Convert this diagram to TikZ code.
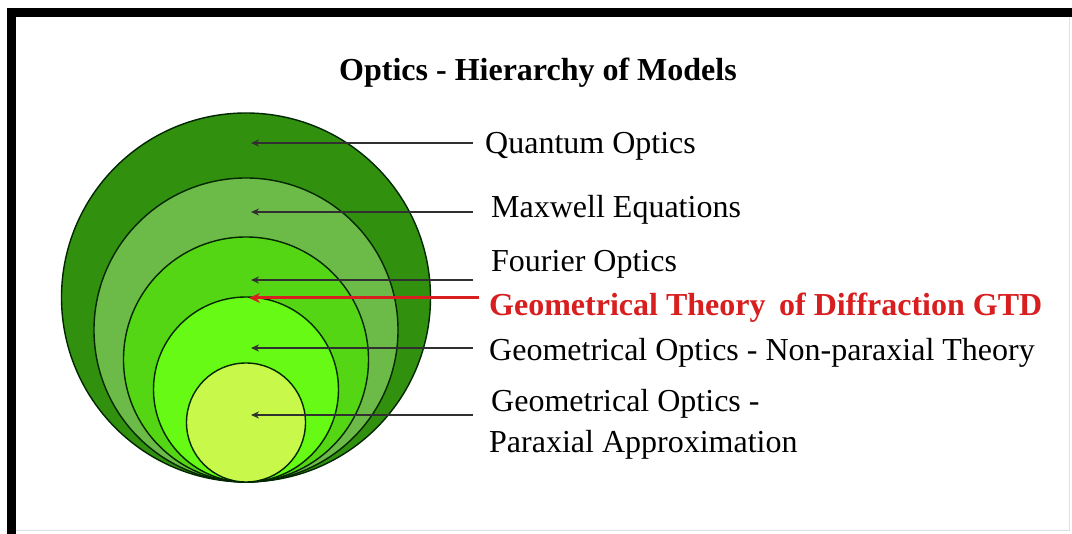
\documentclass[tikz,border=0pt]{standalone}
\usepackage{fontspec}
\setmainfont{Liberation Serif}
\usetikzlibrary{arrows.meta}
\definecolor{cQuantum}{HTML}{32900F}
\definecolor{cMaxwell}{HTML}{6CBA48}
\definecolor{cFourier}{HTML}{54D615}
\definecolor{cGOnp}{HTML}{66FA14}
\definecolor{cParax}{HTML}{C8F84A}
\definecolor{gtdred}{HTML}{D81E1E}
\definecolor{leadgray}{HTML}{303030}
\tikzset{
  x=1pt, y=-1pt,
  ring/.style={draw=black!85!green, line width=1.4pt},
  lbl/.style={anchor=base west, inner sep=0pt, font=\fontsize{32}{38}\selectfont},
  redlbl/.style={lbl, font=\fontsize{32}{38}\selectfont\bfseries, text=gtdred},
  leader/.style={draw=leadgray, line width=1.6pt, -{Stealth[length=8pt,width=7pt]}},
  redleader/.style={draw=gtdred, line width=3pt, -{Stealth[length=11pt,width=10pt]}},
}
\begin{document}
\begin{tikzpicture}
\useasboundingbox (0,0) rectangle (1072,534);
\fill[white] (0,0) rectangle (1072,534);
% frame
\fill[black] (7,8) rectangle (1072,17);
\fill[black] (7,8) rectangle (16,534);
\draw[black!12, line width=1pt] (1069,17) -- (1069,531) -- (16,531);
% title
\node[anchor=base, inner sep=0pt, font=\fontsize{32}{38}\selectfont\bfseries] (title) at (538,81) {Optics - Hierarchy of Models};
% circles, all tangent at the bottom point (246,482)
\fill[cQuantum] (246,297.5) circle[radius=184.5pt];
\draw[ring] (246,297.5) circle[radius=184.5pt];
\fill[cMaxwell] (246,330) circle[radius=152pt];
\draw[ring] (246,330) circle[radius=152pt];
\fill[cFourier] (246,359.5) circle[radius=122.5pt];
\draw[ring] (246,359.5) circle[radius=122.5pt];
\fill[cGOnp] (246,389.5) circle[radius=92.5pt];
\draw[ring] (246,389.5) circle[radius=92.5pt];
\fill[cParax] (246,422.5) circle[radius=59.5pt];
\draw[ring] (246,422.5) circle[radius=59.5pt];
% labels
\node[lbl] (lQ) at (485,154) {Quantum Optics};
\node[lbl] (lM) at (491,218) {Maxwell Equations};
\node[lbl] (lF) at (491,272) {Fourier Optics};
\node[redlbl] (lG1) at (489,316) {Geometrical Theory};
\node[redlbl] (lG2) at (779,316) {of Diffraction GTD};
\node[lbl] (lN) at (489,361) {Geometrical Optics - Non-paraxial Theory};
\node[lbl] (lP1) at (491,412) {Geometrical Optics -};
\node[lbl] (lP2) at (489,453) {Paraxial Approximation};
% leader ends
\coordinate (sQ) at (473,143);  \coordinate (tQ) at (251,143);
\coordinate (sM) at (473,212);  \coordinate (tM) at (251,212);
\coordinate (sF) at (473,280);  \coordinate (tF) at (251,280);
\coordinate (sG) at (479,298);  \coordinate (tG) at (249,298);
\coordinate (sN) at (473,348);  \coordinate (tN) at (251,348);
\coordinate (sP) at (473,415);  \coordinate (tP) at (251,415);
\draw[leader] (sQ) -- (tQ);
\draw[leader] (sM) -- (tM);
\draw[leader] (sF) -- (tF);
\draw[redleader] (sG) -- (tG);
\draw[leader] (sN) -- (tN);
\draw[leader] (sP) -- (tP);
\end{tikzpicture}
\end{document}
